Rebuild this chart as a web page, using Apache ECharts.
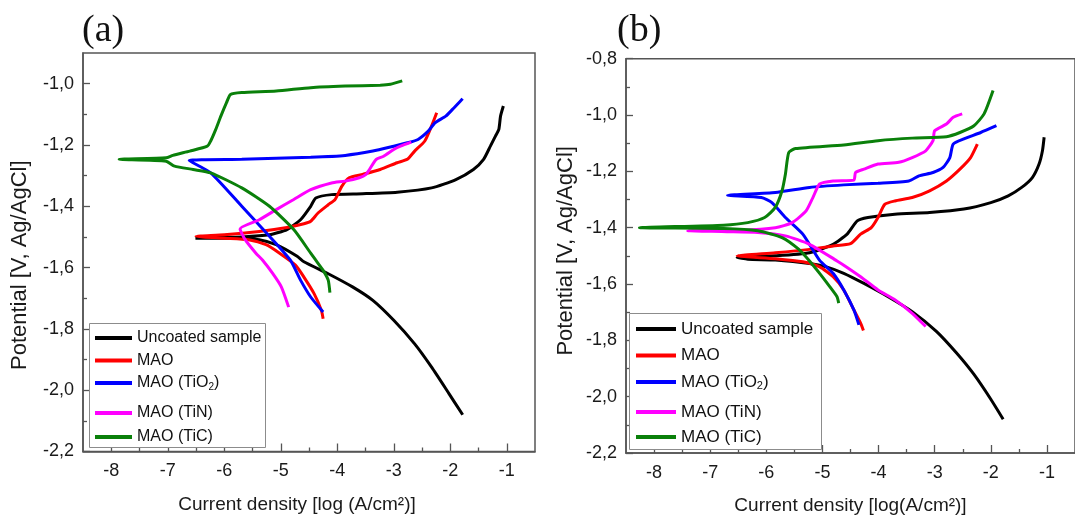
<!DOCTYPE html>
<html>
<head>
<meta charset="utf-8">
<script src="https://cdn.jsdelivr.net/npm/echarts@6/dist/echarts.min.js"></script>
<style>
  html, body { margin: 0; padding: 0; background: #fff; }
  #chart { width: 1075px; height: 520px; }
</style>
</head>
<body>
<div id="chart"></div>
<script>
// Potentiodynamic polarization curves: [log current density (A/cm2), potential (V vs Ag/AgCl)]
// Each curve runs from the cathodic end, through the corrosion potential, to the anodic end.

const seriesNames = ['Uncoated sample', 'MAO', 'MAO (TiO2)', 'MAO (TiN)', 'MAO (TiC)'];
const seriesColors = ['#000000', '#ff0000', '#0000ff', '#ff00ff', '#0a800a'];

// ---- panel (a) ----
const uncoatedA = [[-1.78,-2.08],[-2.02,-2.012],[-2.33,-1.925],[-2.63,-1.849],[-3.00,-1.772],[-3.37,-1.707],[-3.73,-1.663],[-4.16,-1.620],[-4.59,-1.581],[-4.71,-1.563],[-5.08,-1.525],[-5.38,-1.509],[-5.69,-1.504],[-6.18,-1.504],[-6.51,-1.504],
  [-6.20,-1.502],[-5.69,-1.500],[-5.20,-1.493],[-4.89,-1.476],[-4.65,-1.444],[-4.47,-1.400],[-4.38,-1.373],[-4.10,-1.362],[-3.55,-1.359],[-2.94,-1.354],[-2.33,-1.340],[-1.90,-1.313],[-1.59,-1.280],[-1.41,-1.247],[-1.29,-1.204],[-1.20,-1.171],[-1.14,-1.149],[-1.11,-1.106],[-1.06,-1.073]];
const maoA = [[-4.25,-1.767],[-4.28,-1.740],[-4.41,-1.685],[-4.59,-1.631],[-4.74,-1.592],[-5.02,-1.553],[-5.26,-1.525],[-5.57,-1.509],[-6.00,-1.504],[-6.50,-1.498],
  [-6.00,-1.493],[-5.38,-1.482],[-4.89,-1.469],[-4.59,-1.457],[-4.47,-1.449],[-4.34,-1.422],[-4.16,-1.395],[-4.04,-1.378],[-3.92,-1.335],[-3.79,-1.307],[-3.55,-1.296],[-3.24,-1.280],[-2.94,-1.258],[-2.76,-1.247],[-2.63,-1.220],[-2.45,-1.187],[-2.33,-1.138],[-2.24,-1.095]];
const tio2A = [[-4.25,-1.745],[-4.47,-1.696],[-4.65,-1.641],[-4.83,-1.576],[-5.20,-1.498],[-5.69,-1.400],[-6.24,-1.291],[-6.62,-1.251],
  [-5.69,-1.247],[-4.47,-1.240],[-3.86,-1.234],[-3.37,-1.220],[-3.00,-1.204],[-2.76,-1.193],[-2.57,-1.182],[-2.39,-1.155],[-2.27,-1.128],[-2.08,-1.106],[-1.96,-1.084],[-1.78,-1.049]];
const tinA = [[-4.86,-1.729],[-4.99,-1.663],[-5.14,-1.620],[-5.32,-1.576],[-5.44,-1.553],[-5.63,-1.509],[-5.72,-1.474],
  [-5.38,-1.444],[-5.08,-1.411],[-4.77,-1.378],[-4.47,-1.346],[-4.10,-1.324],[-3.86,-1.318],[-3.61,-1.307],[-3.49,-1.296],[-3.43,-1.280],[-3.31,-1.247],[-3.18,-1.237],[-3.00,-1.215],[-2.88,-1.204],[-2.69,-1.191]];
const ticA = [[-4.13,-1.682],[-4.16,-1.641],[-4.25,-1.609],[-4.38,-1.576],[-4.47,-1.553],[-4.77,-1.476],[-5.20,-1.400],[-5.69,-1.340],[-6.24,-1.291],[-6.55,-1.280],[-6.88,-1.269],[-7.03,-1.253],[-7.86,-1.247],
  [-7.03,-1.242],[-6.91,-1.234],[-6.61,-1.220],[-6.30,-1.204],[-6.24,-1.187],[-6.15,-1.149],[-6.06,-1.106],[-5.96,-1.062],[-5.89,-1.035],[-5.69,-1.029],[-5.08,-1.024],[-4.47,-1.013],[-3.86,-1.008],[-3.24,-1.005],[-3.06,-1.002],[-2.85,-0.991]];

// ---- panel (b) ----
const uncoatedB = [[-1.78,-2.08],[-2.00,-2.009],[-2.30,-1.921],[-2.61,-1.845],[-2.97,-1.768],[-3.40,-1.698],[-3.83,-1.645],[-4.26,-1.598],[-4.62,-1.562],[-4.93,-1.539],[-5.23,-1.527],[-5.84,-1.515],[-6.33,-1.512],[-6.52,-1.506],
  [-5.84,-1.500],[-5.23,-1.489],[-4.81,-1.459],[-4.56,-1.423],[-4.38,-1.376],[-4.19,-1.364],[-3.71,-1.352],[-3.09,-1.346],[-2.48,-1.334],[-2.00,-1.311],[-1.69,-1.287],[-1.45,-1.257],[-1.26,-1.222],[-1.14,-1.174],[-1.08,-1.127],[-1.05,-1.079]];
const maoB = [[-4.27,-1.765],[-4.32,-1.739],[-4.44,-1.692],[-4.62,-1.621],[-4.81,-1.574],[-5.05,-1.539],[-5.35,-1.521],[-5.84,-1.510],[-6.52,-1.500],
  [-5.84,-1.489],[-5.23,-1.477],[-4.81,-1.465],[-4.50,-1.457],[-4.32,-1.423],[-4.13,-1.400],[-4.01,-1.364],[-3.89,-1.317],[-3.71,-1.305],[-3.40,-1.293],[-3.09,-1.269],[-2.79,-1.234],[-2.55,-1.192],[-2.36,-1.151],[-2.24,-1.103]];
const tio2B = [[-4.35,-1.745],[-4.44,-1.692],[-4.62,-1.621],[-4.81,-1.562],[-5.05,-1.516],[-5.35,-1.423],[-5.66,-1.364],[-5.90,-1.311],[-6.09,-1.293],[-6.69,-1.285],
  [-5.84,-1.275],[-5.23,-1.257],[-4.62,-1.248],[-4.01,-1.242],[-3.46,-1.234],[-3.28,-1.216],[-3.03,-1.204],[-2.85,-1.186],[-2.73,-1.151],[-2.67,-1.103],[-2.48,-1.085],[-2.18,-1.062],[-1.90,-1.038]];
const tinB = [[-3.16,-1.751],[-3.40,-1.704],[-3.71,-1.656],[-4.01,-1.621],[-4.32,-1.574],[-4.62,-1.533],[-4.74,-1.518],[-5.23,-1.459],[-5.66,-1.429],[-6.15,-1.417],[-6.70,-1.414],[-7.40,-1.411],
  [-6.45,-1.409],[-5.84,-1.400],[-5.54,-1.382],[-5.29,-1.340],[-5.17,-1.293],[-5.05,-1.245],[-4.81,-1.234],[-4.44,-1.231],[-4.41,-1.204],[-4.26,-1.192],[-4.01,-1.174],[-3.64,-1.168],[-3.40,-1.151],[-3.16,-1.127],[-3.03,-1.091],[-3.00,-1.056],[-2.79,-1.032],[-2.67,-1.008],[-2.51,-0.996]];
const ticB = [[-4.71,-1.668],[-4.74,-1.645],[-4.87,-1.609],[-5.05,-1.562],[-5.23,-1.518],[-5.42,-1.477],[-5.72,-1.435],[-6.15,-1.411],[-6.76,-1.403],[-8.26,-1.400],
  [-6.76,-1.391],[-6.33,-1.382],[-6.03,-1.364],[-5.84,-1.328],[-5.72,-1.269],[-5.66,-1.210],[-5.60,-1.133],[-5.48,-1.119],[-4.62,-1.106],[-4.01,-1.091],[-3.40,-1.082],[-2.79,-1.077],[-2.55,-1.062],[-2.30,-1.038],[-2.12,-0.996],[-1.96,-0.913]];

// ---- axis ticks ----
const xTicks = [-8, -7, -6, -5, -4, -3, -2, -1];
const xMinorTicks = [-7.5, -6.5, -5.5, -4.5, -3.5, -2.5, -1.5];
const yTicksA = [-2.2, -2.0, -1.8, -1.6, -1.4, -1.2, -1.0];
const yTicksB = [-2.2, -2.0, -1.8, -1.6, -1.4, -1.2, -1.0, -0.8];
const yMinorTicksA = [-2.1, -1.9, -1.7, -1.5, -1.3, -1.1];
const yMinorTicksB = [-2.1, -1.9, -1.7, -1.5, -1.3, -1.1, -0.9];

const panelA = [uncoatedA, maoA, tio2A, tinA, ticA];
const panelB = [uncoatedB, maoB, tio2B, tinB, ticB];

const FONT = '"Liberation Sans", Arial, sans-serif';
const SERIF = '"Liberation Serif", "Times New Roman", serif';
const AXIS_COLOR = '#555';
const TEXT_COLOR = '#1a1a1a';
const fmtY = v => v.toFixed(1).replace('.', ',');

const chart = echarts.init(document.getElementById('chart'), null, { renderer: 'canvas' });

function xMajor(grid, name, gap, shift) {
  return {
    type: 'value', gridIndex: grid, position: 'bottom', min: -8.5, max: -0.5,
    name: name, nameLocation: 'middle', nameGap: gap,
    nameTextStyle: { fontFamily: FONT, fontSize: 19, color: TEXT_COLOR, padding: [0, shift, 0, 0] },
    axisLine: { show: true, onZero: false, lineStyle: { color: AXIS_COLOR, width: 1.5 } },
    axisTick: { show: true, inside: true, length: 8, customValues: xTicks, lineStyle: { color: AXIS_COLOR, width: 1.3 } },
    axisLabel: { customValues: xTicks, fontFamily: FONT, fontSize: 18, color: TEXT_COLOR, margin: 11 },
    splitLine: { show: false }
  };
}
function xMinor(grid) {
  return {
    type: 'value', gridIndex: grid, position: 'bottom', min: -8.5, max: -0.5,
    axisLine: { show: false },
    axisTick: { show: true, inside: true, length: 4, customValues: xMinorTicks, lineStyle: { color: AXIS_COLOR, width: 1.3 } },
    axisLabel: { show: false }, splitLine: { show: false }
  };
}
// namePad shifts the rotated title along the axis (padding in the text's own frame)
function yMajor(grid, max, ticks, gap, namePad) {
  return {
    type: 'value', gridIndex: grid, position: 'left', min: -2.2, max: max,
    name: 'Potential [V, Ag/AgCl]', nameLocation: 'middle', nameGap: gap, nameRotate: 90,
    nameTextStyle: { fontFamily: FONT, fontSize: 22, color: TEXT_COLOR, padding: namePad },
    axisLine: { show: true, onZero: false, lineStyle: { color: AXIS_COLOR, width: 1.5 } },
    axisTick: { show: true, inside: true, length: 7, customValues: ticks, lineStyle: { color: AXIS_COLOR, width: 1.3 } },
    axisLabel: { customValues: ticks, formatter: fmtY, fontFamily: FONT, fontSize: 18, color: TEXT_COLOR, margin: 9 },
    splitLine: { show: false }
  };
}
function yMinor(grid, max, ticks) {
  return {
    type: 'value', gridIndex: grid, position: 'left', min: -2.2, max: max,
    axisLine: { show: false },
    axisTick: { show: true, inside: true, length: 4, customValues: ticks, lineStyle: { color: AXIS_COLOR, width: 1.3 } },
    axisLabel: { show: false }, splitLine: { show: false }
  };
}

function curveSeries(panel, xIdx, yIdx) {
  return panel.map((data, i) => ({
    type: 'line', name: seriesNames[i], xAxisIndex: xIdx, yAxisIndex: yIdx,
    data: data, showSymbol: false, smooth: 0.2, animation: false,
    lineStyle: { color: seriesColors[i], width: 3 },
    itemStyle: { color: seriesColors[i] }
  }));
}

// a legend block listing some of the series, placed over a framed white box
function legendPart(names, left, top, fontSize, lineHeight, itemWidth, gap) {
  return {
    orient: 'vertical', left: left, top: top, padding: 0,
    data: names, selectedMode: false, z: 6,
    icon: 'rect', itemWidth: itemWidth, itemHeight: 4, itemGap: gap,
    formatter: n => n === 'MAO (TiO2)' ? 'MAO (TiO{sub|2})' : n,
    textStyle: {
      fontFamily: FONT, fontSize: fontSize, lineHeight: lineHeight, color: '#111',
      rich: { sub: { fontFamily: FONT, fontSize: Math.round(fontSize * 0.65), lineHeight: 5, verticalAlign: 'bottom', color: '#111' } }
    }
  };
}
function legendBox(x, y, w, h) {
  return { type: 'rect', z: 5, silent: true, shape: { x: x, y: y, width: w, height: h },
           style: { fill: '#fff', stroke: '#8c8c8c', lineWidth: 1 } };
}

const option = {
  backgroundColor: '#fff',
  animation: false,
  title: [
    { text: '(a)', left: 77, top: 7, textStyle: { fontFamily: SERIF, fontSize: 38, fontWeight: 'normal', color: '#111' } },
    { text: '(b)', left: 612, top: 7, textStyle: { fontFamily: SERIF, fontSize: 38, fontWeight: 'normal', color: '#111' } }
  ],
  grid: [
    { left: 83, top: 53, width: 452, height: 398.5, show: true, borderColor: AXIS_COLOR, borderWidth: 1.5, backgroundColor: 'transparent' },
    { left: 626, top: 58.7, width: 450.6, height: 395.3, show: true, borderColor: AXIS_COLOR, borderWidth: 1.5, backgroundColor: 'transparent' }
  ],
  xAxis: [
    xMajor(0, 'Current density [log (A/cm²)]', 44, 24), xMinor(0),
    xMajor(1, 'Current density [log(A/cm²)]', 43, 0), xMinor(1)
  ],
  yAxis: [
    yMajor(0, -0.9, yTicksA, 52, [0, 26, 0, 0]), yMinor(0, -0.9, yMinorTicksA),
    yMajor(1, -0.8, yTicksB, 49, [0, 0, 0, 10]), yMinor(1, -0.8, yMinorTicksB)
  ],
  legend: [
    legendPart(seriesNames.slice(0, 3), 95, 329, 16, 18, 37, 4.5),
    legendPart(seriesNames.slice(3), 95, 404, 16, 18, 37, 6),
    legendPart(seriesNames.slice(0, 3), 636, 319.5, 17, 19, 40, 7.5),
    legendPart(seriesNames.slice(3), 636, 402.5, 17, 19, 40, 6)
  ],
  graphic: [
    legendBox(89.5, 323.5, 176, 124),
    legendBox(629.5, 313.5, 192, 136)
  ],
  series: [].concat(curveSeries(panelA, 0, 0), curveSeries(panelB, 2, 2))
};

chart.setOption(option);
</script>
</body>
</html>
